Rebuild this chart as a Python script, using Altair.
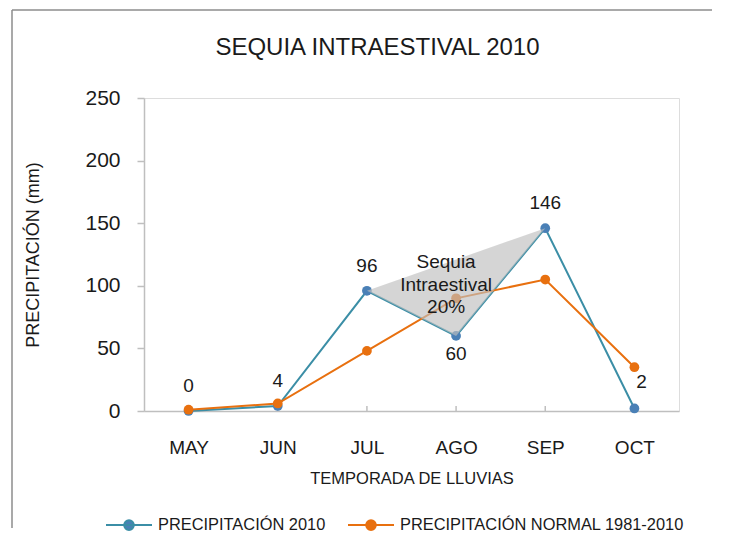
import altair as alt
import pandas as pd

# ---------------- data ----------------
months = ["MAY", "JUN", "JUL", "AGO", "SEP", "OCT"]
precip_2010 = [0, 4, 96, 60, 146, 2]
precip_normal = [1, 6, 48, 90, 105, 35]
series_names = ["PRECIPITACIÓN 2010", "PRECIPITACIÓN NORMAL 1981-2010"]
line_colors = ["#3b8ea6", "#e8700f"]
point_colors = ["#4a80b6", "#e8700f"]
y_ticks = [0, 50, 100, 150, 200, 250]
drought_months = ["JUL", "AGO", "SEP"]
label_below = ["AGO"]
label_right = ["OCT"]
annotation_lines = ["Sequia", "Intraestival", "20%"]
annotation_month = "AGO"
annotation_value = 119

FONT = "Liberation Sans, Arial, sans-serif"
TXT = "#1a1a1a"

rows = []
for s, vals in zip(series_names, [precip_2010, precip_normal]):
    for i, (m, v) in enumerate(zip(months, vals)):
        rows.append({"month": m, "value": v, "serie": s, "idx": i})
df = pd.DataFrame(rows)
df2010 = df[df["serie"] == series_names[0]]

i0, i1, i2 = (months.index(m) for m in drought_months)
tri = pd.DataFrame({
    "month": drought_months,
    "lower": [precip_2010[i0], precip_2010[i1], precip_2010[i2]],
    "upper": [precip_2010[i0], (precip_2010[i0] + precip_2010[i2]) / 2, precip_2010[i2]],
})
ann = pd.DataFrame({"month": [annotation_month], "value": [annotation_value],
                    "text": ["\n".join(annotation_lines)]})

xscale = alt.Scale(domain=months, type="point", padding=0.5)
yscale = alt.Scale(domain=[0, 250], nice=False)

X = alt.X("month:N", scale=xscale, sort=months,
          axis=alt.Axis(title="TEMPORADA DE LLUVIAS", ticks=False, labelAngle=0,
                        labelAlign="center",
                        labelFont=FONT, labelFontSize=19, labelColor=TXT,
                        labelBaseline="middle", labelPadding=36,
                        titleFont=FONT, titleFontSize=16.5, titleFontWeight="normal",
                        titleColor=TXT, titleY=67, titleBaseline="middle",
                        domainColor="#bfbfbf", domainWidth=1.5))
Y = alt.Y("value:Q", scale=yscale,
          axis=alt.Axis(title="PRECIPITACIÓN (mm)", values=y_ticks, grid=False,
                        tickColor="#bfbfbf", tickSize=7, tickWidth=1.5,
                        labelFont=FONT, labelFontSize=21, labelColor=TXT, labelPadding=17,
                        titleFont=FONT, titleFontSize=18, titleFontWeight="normal",
                        titleColor=TXT, titleX=-111, titleY=156.5, titleBaseline="middle",
                        titleAngle=270, domainColor="#bfbfbf", domainWidth=1.5))

legend_path = ("M-1,0L1,0M0.21,0A0.21,0.21,0,1,1,-0.21,0A0.21,0.21,0,1,1,0.21,0Z")
leg = alt.Legend(orient="none", legendX=-39, legendY=403, direction="horizontal",
                 title=None, symbolType=legend_path, symbolSize=2116,
                 symbolStrokeWidth=2, labelFont=FONT, labelFontSize=16.4,
                 labelColor=TXT, columnPadding=18, labelOffset=5, labelLimit=500)

base = alt.Chart(df)

lines = base.mark_line(strokeWidth=2).encode(
    x=X, y=Y,
    stroke=alt.Stroke("serie:N", scale=alt.Scale(domain=series_names, range=line_colors), legend=leg),
    order="idx:Q",
)
points = base.mark_circle(size=95, opacity=1).encode(
    x=X, y=Y,
    fill=alt.Fill("serie:N", scale=alt.Scale(domain=series_names, range=point_colors), legend=leg),
)

xticks = alt.Chart(pd.DataFrame({"month": months})).mark_rule(color="#bfbfbf", strokeWidth=1.5).encode(
    x=alt.X("month:N", scale=xscale, sort=months), y=alt.value(308), y2=alt.value(313))

triangle = alt.Chart(tri).mark_area(color="#bfbfbf", opacity=0.65).encode(
    x=alt.X("month:N", scale=xscale, sort=months),
    y=alt.Y("upper:Q", scale=yscale), y2="lower:Q")

ann_text = alt.Chart(ann).mark_text(font=FONT, fontSize=19, color=TXT, lineBreak="\n",
                                    lineHeight=22.5, baseline="middle", dx=-10).encode(
    x=alt.X("month:N", scale=xscale, sort=months),
    y=alt.Y("value:Q", scale=yscale), text="text:N")

lab_common = dict(font=FONT, fontSize=19, color=TXT, baseline="middle")
lab_above = alt.Chart(df2010).transform_filter(
    ~alt.FieldOneOfPredicate(field="month", oneOf=label_below + label_right)
).mark_text(dy=-25, **lab_common).encode(
    x=alt.X("month:N", scale=xscale, sort=months), y=alt.Y("value:Q", scale=yscale), text="value:Q")
lab_below = alt.Chart(df2010).transform_filter(
    alt.FieldOneOfPredicate(field="month", oneOf=label_below)
).mark_text(dy=18, **lab_common).encode(
    x=alt.X("month:N", scale=xscale, sort=months), y=alt.Y("value:Q", scale=yscale), text="value:Q")
lab_right = alt.Chart(df2010).transform_filter(
    alt.FieldOneOfPredicate(field="month", oneOf=label_right)
).mark_text(dy=-26, dx=7, **lab_common).encode(
    x=alt.X("month:N", scale=xscale, sort=months), y=alt.Y("value:Q", scale=yscale), text="value:Q")

one = pd.DataFrame({"a": [0]})
frame_left = alt.Chart(one).mark_rule(color="#8c8c8c", strokeWidth=1.5).encode(
    x=alt.value(-132), y=alt.value(-88), y2=alt.value(430))
frame_top = alt.Chart(one).mark_rule(color="#8c8c8c", strokeWidth=1.5).encode(
    x=alt.value(-132), x2=alt.value(568), y=alt.value(-88))

chart = alt.layer(
    xticks, lines, points, triangle, ann_text, lab_above, lab_below, lab_right,
    frame_left, frame_top
).properties(
    width=535, height=313,
    autosize=alt.AutoSizeParams(type="none"),
    padding={"left": 136, "top": 90, "right": 35, "bottom": 125},
    title=alt.TitleParams("SEQUIA INTRAESTIVAL 2010", font=FONT, fontSize=24,
                          fontWeight="normal", color=TXT, anchor="middle", dx=-34,
                          offset=-70, baseline="alphabetic", frame="group"),
).configure_view(
    stroke="#d9d9d9", strokeWidth=1.5
).configure(background="white")

chart.save("out.html", embed_options={"renderer": "svg", "actions": False})
